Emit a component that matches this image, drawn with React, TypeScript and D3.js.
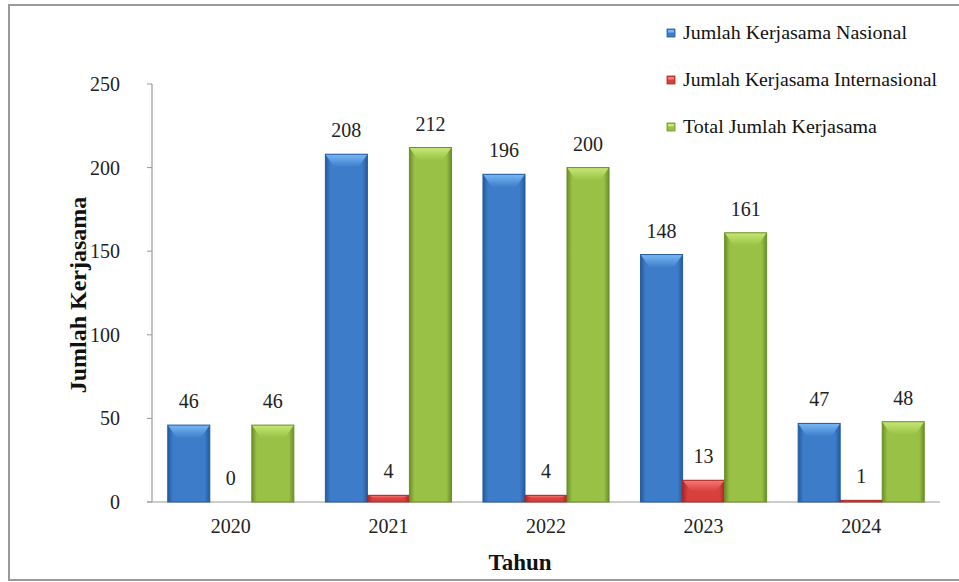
import React from "react";
import * as d3 from "d3";

const years = ["2020", "2021", "2022", "2023", "2024"];
const nasional = [46, 208, 196, 148, 47];
const internasional = [0, 4, 4, 13, 1];
const total = [46, 212, 200, 161, 48];
const seriesNames = [
  "Jumlah Kerjasama Nasional",
  "Jumlah Kerjasama Internasional",
  "Total Jumlah Kerjasama",
];
const yTicks = [0, 50, 100, 150, 200, 250];

const palettes = [
  { main: "#3d7cc9", light: "#79b8f5", dark: "#255a9c", id: "b" },
  { main: "#d8403d", light: "#f57a78", dark: "#a52826", id: "r" },
  { main: "#98c145", light: "#c6e874", dark: "#6a8e2a", id: "g" },
];

const W = 959;
const H = 582;
const serif = "'Liberation Serif', 'Times New Roman', serif";

export default function App() {
  const y = d3.scaleLinear().domain([0, 250]).range([502, 84]);
  const x0 = d3
    .scaleBand<string>()
    .domain(years)
    .range([152, 940])
    .paddingInner(0.2)
    .paddingOuter(0.1);
  const x1 = d3
    .scaleBand<number>()
    .domain([0, 1, 2])
    .range([0, x0.bandwidth()])
    .padding(0);
  const data = [nasional, internasional, total];
  const legendW = [224, 254, 194];

  const bar = (si: number, yi: number) => {
    const v = data[si][yi];
    const p = palettes[si];
    const bx = (x0(years[yi]) as number) + (x1(si) as number);
    const bw = x1.bandwidth();
    const by = y(v);
    const bh = y(0) - by;
    const bev = Math.min(13, bh / 2);
    const ins = Math.min(9, bw / 4);
    return (
      <g key={`${si}-${yi}`}>
        {bh > 0 && (
          <>
            <rect x={bx} y={by} width={bw} height={bh} fill={`url(#grad-${p.id})`} />
            <polygon
              points={`${bx},${by} ${bx + bw},${by} ${bx + bw - ins},${by + bev} ${bx + ins},${by + bev}`}
              fill={`url(#top-${p.id})`}
            />
            <rect x={bx} y={by} width={bw} height={bh} fill="none" stroke={p.dark} strokeWidth={1} />
          </>
        )}
        <text
          x={bx + bw / 2}
          y={by - 17}
          textAnchor="middle"
          fontFamily={serif}
          fontSize={20}
          fill="#222"
        >
          {v}
        </text>
      </g>
    );
  };

  return (
    <svg
      width={W}
      height={H}
      style={{ position: "absolute", left: 0, top: 0, background: "#fff" }}
    >
      <defs>
        {palettes.map((p) => (
          <React.Fragment key={p.id}>
            <linearGradient id={`grad-${p.id}`} x1="0" x2="1" y1="0" y2="0">
              <stop offset="0" stopColor={p.dark} />
              <stop offset="0.12" stopColor={p.main} />
              <stop offset="0.5" stopColor={p.main} />
              <stop offset="0.88" stopColor={p.main} />
              <stop offset="1" stopColor={p.dark} />
            </linearGradient>
            <linearGradient id={`top-${p.id}`} x1="0" x2="0" y1="0" y2="1">
              <stop offset="0" stopColor={p.light} />
              <stop offset="1" stopColor={p.main} />
            </linearGradient>
          </React.Fragment>
        ))}
      </defs>
      <rect x={9} y={5} width={960} height={575} fill="#fff" stroke="#999" strokeWidth={2} />

      <line x1={152} x2={152} y1={y(250)} y2={y(0)} stroke="#999" strokeWidth={1.2} />
      <line x1={147} x2={940} y1={y(0)} y2={y(0)} stroke="#999" strokeWidth={1.2} />
      {yTicks.map((t) => (
        <g key={t}>
          <line x1={147} x2={152} y1={y(t)} y2={y(t)} stroke="#999" />
          <text
            x={120}
            y={y(t) + 7}
            textAnchor="end"
            fontFamily={serif}
            fontSize={20}
            fill="#222"
          >
            {t}
          </text>
        </g>
      ))}
      {years.map((yr) => (
        <text
          key={yr}
          x={(x0(yr) as number) + x0.bandwidth() / 2}
          y={533}
          textAnchor="middle"
          fontFamily={serif}
          fontSize={20}
          fill="#222"
        >
          {yr}
        </text>
      ))}

      {years.map((_, yi) => [0, 1, 2].map((si) => bar(si, yi)))}

      <text
        transform={`translate(86,295) rotate(-90)`}
        textAnchor="middle"
        fontFamily={serif}
        fontSize={24}
        fontWeight="bold"
        fill="#111"
      >
        Jumlah Kerjasama
      </text>
      <text
        x={520}
        y={570}
        textAnchor="middle"
        fontFamily={serif}
        fontSize={23}
        fontWeight="bold"
        fill="#111"
      >
        Tahun
      </text>

      {seriesNames.map((n, i) => {
        const cy = 33 + i * 47;
        const p = palettes[i];
        return (
          <g key={n}>
            <rect x={667} y={cy - 4} width={8} height={8} fill={p.main} stroke={p.dark} strokeWidth={0.8} />
            <rect x={668} y={cy - 3} width={6} height={2.5} fill={p.light} />
            <text
              x={683}
              y={cy + 6}
              fontFamily={serif}
              fontSize={18.5}
              fill="#111"
              textLength={legendW[i]}
              lengthAdjust="spacingAndGlyphs"
            >
              {n}
            </text>
          </g>
        );
      })}
    </svg>
  );
}
